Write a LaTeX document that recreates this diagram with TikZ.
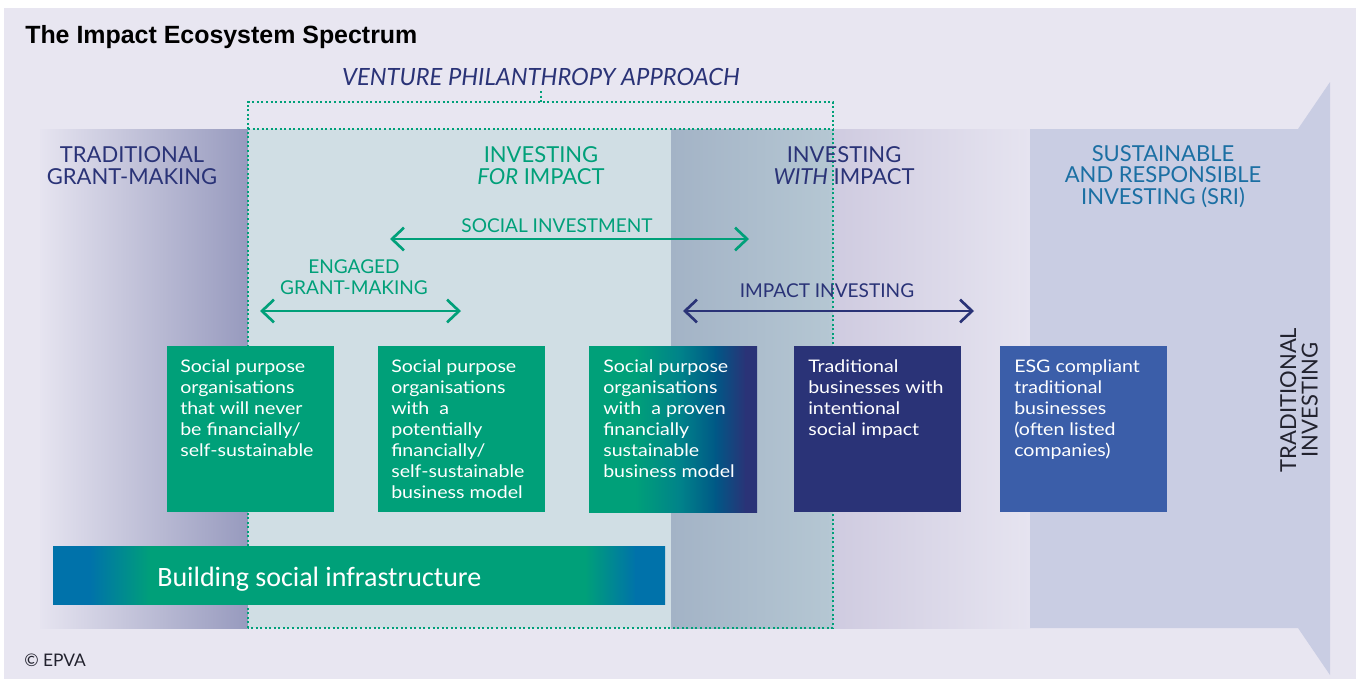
\documentclass[tikz,border=0pt]{standalone}
\usepackage{fontspec}
\setmainfont{Lato}
\newfontfamily\titlefont{Liberation Sans}
\newfontfamily\barfont{Carlito}
\newfontfamily\boxfont[FakeStretch=1.13]{Lato}
\usetikzlibrary{arrows.meta}
\definecolor{bg}{HTML}{E8E6F1}
\definecolor{bandlight}{HTML}{E6E4F0}
\definecolor{grantdark}{HTML}{979ABE}
\definecolor{forimp}{HTML}{D0DEE4}
\definecolor{withA}{HTML}{A3B3C6}
\definecolor{withB}{HTML}{B5C7D3}
\definecolor{withC}{HTML}{CFCBE0}
\definecolor{sri}{HTML}{C9CDE3}
\definecolor{epgreen}{HTML}{00A079}
\definecolor{epnavy}{HTML}{2A3377}
\definecolor{epteal}{HTML}{00828A}
\definecolor{epblue}{HTML}{005886}
\definecolor{barblue}{HTML}{0072AA}
\definecolor{esgblue}{HTML}{3B5EA9}
\definecolor{sritext}{HTML}{1B6FA3}
\definecolor{darktext}{HTML}{22222E}
\tikzset{
  hd/.style={font=\fontsize{16.5}{16.1}\selectfont, align=center, inner sep=0pt, anchor=base},
  lbl/.style={font=\fontsize{14.3}{15.75}\selectfont, align=center, inner sep=0pt, anchor=base},
  box/.style={anchor=north west, inner sep=0pt, minimum width=125.25pt, minimum height=124.5pt},
  boxtxt/.style={font=\boxfont\fontsize{13}{15.75}\selectfont, align=left, inner sep=0pt, text=white, anchor=base west},
  vpline/.style={draw=epgreen, line width=1.5pt, dash pattern=on 1.5pt off 1.9pt},
  span/.style={line width=2pt, {Straight Barb[length=9pt,width=17pt]}-{Straight Barb[length=9pt,width=17pt]}}
}
\begin{document}
\begin{tikzpicture}[x=0.75pt,y=-0.75pt]
\useasboundingbox (0,0) rectangle (1356,679);
\fill[white] (0,0) rectangle (1356,679);
\fill[bg] (4,8) rectangle (1356,679);
% band regions
\begin{scope}
\clip (40,129) rectangle (1030,628);
\shade[left color=bandlight,right color=grantdark] (40,120) rectangle (248,640);
\fill[forimp] (248,129) rectangle (671,628);
\shade[left color=withA,right color=withB] (671,120) rectangle (833,640);
\shade[left color=withC,right color=bandlight] (833,120) rectangle (1030,640);
\end{scope}
\fill[sri] (1030,129) -- (1298,129) -- (1330,82) -- (1330,675) -- (1298,628) -- (1030,628) -- cycle;
% title
\node[font=\titlefont\bfseries\fontsize{18.7}{20}\selectfont, anchor=base west, inner sep=0pt] (title) at (25,43) {The Impact Ecosystem Spectrum};
% venture philanthropy box
\node[font=\itshape\fontsize{17.8}{20}\selectfont, text=epnavy, anchor=base, inner sep=0pt] (vpa) at (541,85) {VENTURE PHILANTHROPY APPROACH};
\coordinate (vptick) at (541,91);
\coordinate (vptop) at (541,102);
\coordinate (vpnw) at (248,102);
\coordinate (vpne) at (833,102);
\coordinate (vpsw) at (248,628);
\coordinate (vpse) at (833,628);
\coordinate (bandw) at (248,129);
\coordinate (bande) at (833,129);
\draw[vpline] (vpsw) -- (vpnw) -- (vpne) -- (vpse) -- cycle;
\draw[vpline] (bandw) -- (bande);
\draw[vpline] (vptick) -- (vptop);
% headings (anchor = baseline of last line)
\node[hd, text=epnavy] (tgm) at (132,184) {TRADITIONAL\\GRANT-MAKING};
\node[hd, text=epgreen] (ifi) at (541,184) {INVESTING\\\textit{FOR} IMPACT};
\node[hd, text=epnavy] (iwi) at (844,184) {INVESTING\\\textit{WITH} IMPACT};
\node[hd, text=sritext] (sri) at (1163,204) {SUSTAINABLE\\AND RESPONSIBLE\\INVESTING (SRI)};
\node[hd, text=darktext, rotate=90, anchor=center] (tinv) at (1299,400) {TRADITIONAL\\INVESTING};
% spans
\node[lbl, text=epgreen] (sil) at (557,232) {SOCIAL INVESTMENT};
\coordinate (siL) at (390,239);
\coordinate (siR) at (749,239);
\draw[span, draw=epgreen] (siL) -- (siR);
\node[lbl, text=epgreen] (egl) at (354,294) {ENGAGED\\GRANT-MAKING};
\coordinate (egL) at (260,311);
\coordinate (egR) at (461,311);
\draw[span, draw=epgreen] (egL) -- (egR);
\node[lbl, text=epnavy] (iil) at (827,297) {IMPACT INVESTING};
\coordinate (iiL) at (683,311);
\coordinate (iiR) at (974,311);
\draw[span, draw=epnavy] (iiL) -- (iiR);
% boxes
\node[box, fill=epgreen] (b1) at (167,346) {};
\node[box, fill=epgreen] (b2) at (378,346) {};
\node[box] (b3) at (589,346) {};
\begin{scope}
\clip (589,346) rectangle (757,512);
\fill[epgreen] (589,340) rectangle (636,520);
\shade[left color=epgreen, right color=epteal] (635,340) rectangle (681,520);
\shade[left color=epteal, right color=epblue] (680,340) rectangle (716,520);
\shade[left color=epblue, right color=epnavy] (715,340) rectangle (746,520);
\fill[epnavy] (745,340) rectangle (760,520);
\end{scope}
\node[box, fill=epnavy] (b4) at (794,346) {};
\node[box, fill=esgblue] (b5) at (1000,346) {};
\node[boxtxt] (t1) at (180,456) {Social purpose\\organisations\\that will never\\be financially/\\self-sustainable};
\node[boxtxt] (t2) at (391,498) {Social purpose\\organisations\\with~ a\\potentially\\financially/\\self-sustainable\\business model};
\node[boxtxt] (t3) at (603,477) {Social purpose\\organisations\\with~ a proven\\financially\\sustainable\\business model};
\node[boxtxt] (t4) at (808,435) {Traditional\\businesses with\\intentional\\social impact};
\node[boxtxt] (t5) at (1014,456) {ESG compliant\\traditional\\businesses\\(often listed\\companies)};
% building social infrastructure
\begin{scope}
\clip (53,546) rectangle (665,604);
\fill[barblue] (50,540) rectangle (91,610);
\shade[left color=barblue, right color=epgreen] (90,540) rectangle (151,610);
\fill[epgreen] (150,540) rectangle (586,610);
\shade[left color=epgreen, right color=barblue] (585,540) rectangle (636,610);
\fill[barblue] (635,540) rectangle (670,610);
\end{scope}
\node[font=\barfont\fontsize{21}{24}\selectfont, text=white, anchor=base west, inner sep=0pt] (bsi) at (157,586) {Building social infrastructure};
% copyright
\node[font=\fontsize{13}{15}\selectfont, text=darktext, anchor=base west, inner sep=0pt] (copy) at (24,666) {© EPVA};
\end{tikzpicture}
\end{document}
